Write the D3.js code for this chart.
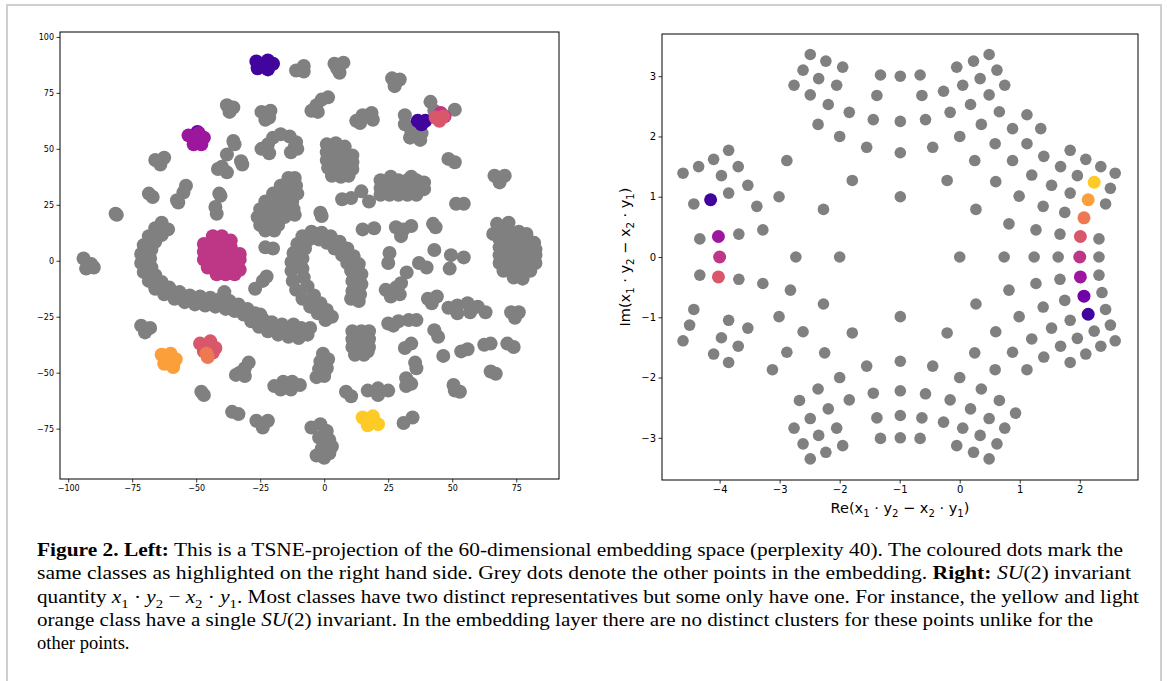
<!DOCTYPE html>
<html lang="en">
<head>
  <meta charset="utf-8">
  <title>Figure 2</title>
  <script src="https://d3js.org/d3.v7.min.js"></script>
  <style>
    body { margin: 0; background: #fff; }
    .tick text { font-family: "DejaVu Sans", sans-serif; fill: #000; }
  </style>
</head>
<body>
<div id="fig"></div>
<script>
  // class colours (plasma), in drawing order
  var classColours = ["#41049d", "#7201a8", "#9c179e", "#bd3786", "#d8576b", "#ed7953", "#fb9f3a", "#fdca26"];

  // ---- left: TSNE projection, grey points
  var tsneGrey = [
    [-11,85],[-8,87],[-8,84.5],[4,88],[7.5,88.5],[6,84],[5,86],[26.5,81.5],[29.5,81],[27.5,78],
    [-38,69.5],[-35.5,68.5],[-37,66.5],[-24.5,66.5],[-21,67],[-23,63],[-21.5,64],
    [-5,67],[-3,69.5],[-1,72],[1.5,73],[-2.5,66.5],[12.5,62.5],[15,65],[18.5,66],[19,63],[14,61.5],
    [31.5,65],[31.5,61],[34,58],[33.5,55],[37.5,54],[41.5,71],[43,67],[51,67.5],[38,57],[36,56],
    [48.5,45.5],[51,44],[66.5,38],[70.5,38],[68.5,35],
    [-66,45],[-62.5,46],[-64,43],[-35.5,53.5],[-35,52],[-38,47.5],[-32.5,44.5],[-32,43],
    [-41.5,41],[-38,39.5],[-40,42],[-24.5,50],[-22,52],[-20,55],[-17,56.5],[-21.5,48],
    [-13.5,55.5],[-11,53],[-10.5,50],[-13,48.5],[-11.5,51],
    // big blob centre-top
    [1,52],[4.5,52.5],[8,51],[1,48.5],[4.5,48.5],[8,48.5],[11,47],[1,45],[4.5,45],[8,45],[11,44],
    [1.5,41.5],[4.5,41.5],[8,41.5],[11,41],[3,38],[6.5,37.5],[9.5,38],
    [-68.5,30],[-67,28.5],[-57.5,27],[-55,30.5],[-54,33.5],[-57,26],[-41,30],[-40.5,29],[-42.5,24],[-42,21],
    [-81.5,21],[-81,20.5],
    // diagonal cluster
    [-14,37],[-11.5,37],[-17,33.5],[-13.5,33.5],[-11,33.5],[-20,30],[-16.5,30],[-13,30],[-10.5,30],
    [-23,26.5],[-19.5,26.5],[-16,26.5],[-12.5,26.5],[-25,23],[-21.5,23],[-18,23],[-14.5,23],[-12,23],
    [-26,19.5],[-22.5,19.5],[-19,19.5],[-15.5,19.5],[-11.5,20.5],[-25,16],[-21.5,16],[-18,16],[-23,13.5],[-19.5,13.5],
    // elongated cluster right of centre
    [22,36],[25.5,36],[29,36],[32.5,36],[36,36],[39,35],[26,37.5],[34,37.5],
    [22,32.5],[25.5,32.5],[29,32.5],[32.5,32.5],[36,32.5],[39,32],[22,29.5],[25.5,29.5],[29,29.5],[32.5,29.5],[36,29.5],
    [7,27.5],[10.5,28],[14.5,31],[17.5,26.5],[51.5,25.5],[54.5,25.5],[43.5,15],[42.5,16.5],
    [28,15],[31,14],[34,15.5],[30,11],[15,14],[19.5,14.5],[-1.5,21.5],[-1,20],[43,4.8],[37,-1],[40,-3],[32.2,-5.2],
    [49.5,2.5],[54.5,1.5],[49,-3.5],[25.5,3.5],[25,-1],
    // right edge cluster
    [67.5,16.5],[72,17],[66,12],[69,13],[72.5,13],[76,13],[79,12],[68.5,9.5],[72,9.5],[75.5,9.5],[79,9.5],[82,8],
    [68.5,6],[72,6],[75.5,6],[79,6],[82.5,5],[68.5,2.5],[72,2.5],[75.5,2.5],[79,2.5],[82.5,2.5],
    [68.5,-1],[72,-1],[75.5,-1],[79,-1],[82.5,-1],[70,-4.5],[73.5,-4.5],[77,-4.5],[80.5,-4.5],[74,-7.5],[77.5,-8],
    [-94,1],[-91,-1.5],[-93,-3.5],[-90,-3],[-23,6],[-20,5.5],[-27,-12.5],[-24,-9],[-22.5,-7],
    // long arc, outer and inner rows
    [-63.5,17],[-66,14.5],[-68.5,11],[-70.5,7],[-71.5,3],[-71.5,-1],[-70.5,-5],[-68.5,-9],[-66,-12.5],
    [-62.5,-15],[-58.5,-17],[-54.5,-18.5],[-50.5,-19.5],[-46.5,-20],[-42.5,-20.5],[-38.5,-21.5],[-35,-22.5],
    [-31.5,-24],[-28.5,-27],[-25.5,-29.5],[-22,-31.5],[-18,-33],[-14,-34],[-10,-34.5],[-6.5,-33],
    [-61,14],[-63.5,11.5],[-66,8.5],[-67.5,5],[-68,1],[-67.5,-3],[-66,-6.5],[-63.5,-9.5],[-60.5,-12],
    [-56.5,-14],[-52.5,-15.5],[-48.5,-16],[-44.5,-16.5],[-40.5,-17],[-37,-18],[-33.5,-19.5],[-30,-21.5],
    [-27,-23.5],[-24,-26],[-20.5,-27.5],[-16.5,-28.5],[-12.5,-29.5],[-9,-30],
    [-39,-14],[-25,-24],[-12,-28.5],[-5.5,-30],[-20,-30],[-15,-31.5],
    // V shape
    [-5,13],[-3,12],[-8.5,11],[-10.5,7.5],[-12,3.5],[-12.8,-0.5],[-12.8,-4.5],[-12.3,-9],[-11,-13],[-8.5,-17],
    [-5.5,-20.5],[-2.5,-23.5],[0.5,-26.5],
    [-6,9.5],[-7.5,5.5],[-8.5,1],[-8.5,-3.5],[-8,-7.5],[-6.5,-11.5],[-4,-15.5],[-1.5,-19],[1,-22],[3,-25],
    [-1,12.5],[2.5,11],[6,8.5],[9,5.5],[11.5,2],[13.5,-1.5],[14.5,-6],[14.5,-10.5],[14,-15],[13.5,-18],
    [-2,9.5],[1,8],[4,5.5],[7,2.5],[9,-1],[10.5,-4.5],[11,-9],[11,-13.5],[10.5,-17],
    [24,-13],[28,-12],[26,-16],[29.5,-15],[30,-10],[25,-28],[29,-27],[33,-26.5],[36,-26.5],[27,-29],
    [40.5,-17],[44,-16],[42,-19],[48.5,-21],[52,-20],[56,-19],[60,-20.5],[63,-23],[57,-23],[52,-23.5],
    [73,-23],[76,-23],[74.5,-25.5],
    [11,-31.5],[14.5,-31.5],[17.5,-31.5],[11,-35],[14.5,-35],[17.5,-35],[11,-38.5],[14.5,-38.5],[17.5,-38.5],
    [12,-42],[15.5,-42],[17,-40.5],
    [31.5,-39],[34,-37],[43,-31],[44.5,-34],[46.5,-42.5],[53.5,-40.5],[56,-39.5],[62.5,-37.5],[65,-37],
    [71.5,-37],[74,-38.5],[35.5,-45.5],[36,-48],[32,-52.5],[34,-55],[32,-56],[65,-49.5],[67,-50.5],
    [50.5,-55.5],[53,-58.5],[51,-58],
    [-0.5,-41.5],[1.5,-44],[-1.5,-45],[1,-48],[-2,-48.5],[-3,-52],[0,-51.5],
    [-19.5,-56],[-16,-54],[-12.5,-54],[-9.5,-55.5],[-17,-57.5],[-13,-57.5],
    [-34.5,-51],[-31,-48],[-29.5,-45.5],[-33,-50],[-31,-51.5],[-48,-58.5],[-47,-60],
    [-71.5,-29],[-68,-30],[-70,-32],[-36,-67.5],[-33.5,-68.5],[-26.5,-71.5],[-22,-71.5],[-24,-74.5],
    [8.5,-58.5],[10.5,-60.5],[17,-58],[21,-57],[25,-58],[21,-60],[31,-72.5],[34.5,-70],
    [-5,-74.5],[-1.5,-73],[1,-76],[-2,-79],[2,-80],[-1,-84],[2,-86],[-3,-87],[0,-88],[3,-83]
  ];

  // ---- left: coloured classes [class, x, y]
  var tsneColoured = [
    [0,-26.5,89],[0,-22,89.5],[0,-20,88],[0,-26,86],[0,-22,85.5],[0,-24,87.5],[0,36.5,62.5],[0,39.5,62.5],[0,38,61],
    [1,-49.5,57.5],
    [2,-53,56],[2,-49,57],[2,-47,55],[2,-51,52],[2,-48,52],[2,-50,54.5],
    [3,-43.5,11],[3,-40,11],[3,-36.5,9],[3,-47,7.5],[3,-43.5,7.5],[3,-40,7.5],[3,-36.5,6],
    [3,-47,4],[3,-43.5,4],[3,-40,4],[3,-36.5,4],[3,-33,3],[3,-47,0.5],[3,-43.5,0.5],[3,-40,0.5],[3,-36.5,0.5],
    [3,-33,0.5],[3,-45.5,-3],[3,-42,-3],[3,-38.5,-3],[3,-35,-3],[3,-33,-4],[3,-42,-6],[3,-38.5,-6],[3,-35,-6],
    [3,45.5,66],[3,47,64.5],
    [4,-48.5,-37],[4,-44.5,-36],[4,-42.5,-39],[4,-47,-40.5],[4,-43.5,-41],[4,43.5,64],[4,46.5,64.5],[4,45,62.5],
    [5,-45.5,-43],[5,-46,-41.5],
    [6,-63.5,-42],[6,-60,-41.5],[6,-58,-44],[6,-62.5,-46],[6,-59,-47.5],[6,-61,-44],
    [7,15,-70],[7,19,-69.5],[7,21,-73],[7,17,-73.5],[7,18,-71.5]
  ];
  var tsneXTicks = [-100, -75, -50, -25, 0, 25, 50, 75];
  var tsneYTicks = [-75, -50, -25, 0, 25, 50, 75, 100];

  // ---- right: SU(2) invariant, grey points [Re, Im]
  var su2Grey = [
    [-2.49,3.36],[-2.23,3.25],[-1.95,3.15],[-2.61,3.10],[-2.35,2.96],[-2.76,2.85],[-2.05,2.85],[-2.49,2.69],
    [-2.19,2.53],[-1.84,2.40],[-2.36,2.20],[-2.00,2.00],[-1.55,1.82],[-2.88,1.60],[-1.79,1.27],[-3.01,1.00],
    [-2.27,0.79],[-2.73,0],[-2.00,0],
    [-1.32,3.02],[-0.99,3.00],[-0.66,3.02],[-1.38,2.68],[-0.63,2.68],[-1.44,2.28],[-0.99,2.25],[-0.57,2.28],
    [-0.99,1.73],[-0.45,1.82],[-0.99,1.00],
    [0.49,3.36],[0.23,3.25],[-0.05,3.15],[0.62,3.10],[0.34,2.96],[0.05,2.85],[0.75,2.85],[0.49,2.69],
    [-0.27,2.75],[0.18,2.53],[-0.16,2.40],[0.66,2.41],[0.36,2.20],[0.00,2.00],[0.59,1.88],[0.25,1.60],
    [-0.21,1.27],[0.60,1.25],[0.27,0.79],[0.00,0],[0.74,0],
    [1.12,2.36],[0.88,2.13],[1.35,2.13],[1.12,1.88],[0.88,1.60],[1.40,1.67],[1.84,1.77],[2.10,1.62],
    [1.68,1.50],[2.35,1.50],[1.20,1.36],[1.96,1.35],[2.59,1.39],[1.53,1.19],[2.51,1.14],[0.99,1.01],
    [1.84,1.06],[2.43,0.88],[1.39,0.84],[1.75,0.74],[0.82,0.55],[1.27,0.45],[1.67,0.38],[2.32,0.30],
    [1.24,0],[1.64,0],[2.32,0],
    [-4.61,1.39],[-4.35,1.50],[-4.10,1.62],[-3.85,1.77],[-3.69,1.50],[-3.97,1.35],[-3.53,1.19],[-3.85,1.06],
    [-4.43,0.88],[-3.38,0.84],[-3.28,0.45],[-3.68,0.38],[-4.33,0.30],
    [-4.33,-0.30],[-3.68,-0.37],[-3.28,-0.44],[-2.82,-0.55],[-4.43,-0.87],[-3.85,-1.05],[-4.50,-1.13],
    [-3.53,-1.18],[-3.97,-1.34],[-4.61,-1.39],[-3.69,-1.48],[-4.10,-1.61],[-3.85,-1.75],[-2.88,-1.58],
    [-3.01,-0.99],[-2.27,-0.78],[-3.12,-1.87],[-2.61,-1.24],
    [-0.99,-0.99],[-1.79,-1.26],[-0.21,-1.26],[-0.99,-1.73],[-1.55,-1.81],[-0.45,-1.81],[0,-2.0],[-2.0,-2.0],
    [-0.99,-2.22],[-1.44,-2.26],[-0.57,-2.27],[-1.38,-2.67],[-0.63,-2.67],[-0.99,-2.63],[-1.32,-3.01],
    [-0.99,-3.0],[-0.66,-3.01],[-0.27,-2.74],
    [-2.25,-1.59],[-2.36,-2.19],[-1.84,-2.37],[-2.67,-2.38],[-2.19,-2.52],[-2.49,-2.68],[-2.76,-2.84],
    [-2.05,-2.84],[-2.35,-2.96],[-2.61,-3.10],[-1.95,-3.13],[-2.23,-3.24],[-2.49,-3.35],
    [-0.16,-2.37],[0.18,-2.52],[0.36,-2.19],[0.66,-2.38],[0.49,-2.68],[0.75,-2.84],[0.05,-2.84],[0.34,-2.96],
    [0.62,-3.10],[-0.05,-3.13],[0.23,-3.24],[0.49,-3.35],[0.93,-2.59],
    [0.25,-1.59],[0.59,-1.87],[1.12,-1.87],[0.27,-0.78],[0.60,-1.24],[0.82,-0.55],
    [2.32,-0.30],[1.67,-0.37],[1.27,-0.44],[2.37,-0.59],[1.75,-0.72],[1.39,-0.83],[2.43,-0.87],[0.99,-0.99],
    [1.84,-1.05],[1.53,-1.18],[2.24,-1.23],[2.51,-1.13],[1.96,-1.35],[1.20,-1.36],[2.59,-1.39],[1.68,-1.48],
    [2.35,-1.48],[2.10,-1.61],[1.40,-1.66],[1.84,-1.75],[0.88,-1.58]
  ];
  // coloured classes [class, Re, Im]
  var su2Coloured = [
    [0,-4.15,0.95],[0,2.14,-0.95],[1,2.07,-0.65],[2,-4.02,0.34],[2,2.01,-0.33],[3,-4.0,0],[3,2.0,0],
    [4,-4.02,-0.33],[4,2.01,0.34],[5,2.07,0.65],[6,2.14,0.95],[7,2.24,1.24]
  ];
  var su2XTicks = [-4, -3, -2, -1, 0, 1, 2];
  var su2YTicks = [-3, -2, -1, 0, 1, 2, 3];

  var W = 1167, H = 681;
  var svg = d3.select("#fig").append("svg").attr("width", W).attr("height", H);

  // outer frame of the figure page
  svg.append("rect").attr("x", 7).attr("y", 5).attr("width", 1154).attr("height", 690)
    .attr("fill", "none").attr("stroke", "#cfcfcf").attr("stroke-width", 2);

  function drawAxes(x, y, xt, yt, fs) {
    var g = svg.append("g");
    var r = y.range();
    var xr = x.range();
    g.append("g").attr("transform", "translate(0," + r[0] + ")")
      .call(d3.axisBottom(x).tickValues(xt).tickSize(3.5).tickPadding(2.5))
      .call(s => s.select(".domain").remove())
      .selectAll("text").attr("font-size", fs);
    g.append("g").attr("transform", "translate(" + xr[0] + ",0)")
      .call(d3.axisLeft(y).tickValues(yt).tickSize(3.5).tickPadding(2.5))
      .call(s => s.select(".domain").remove())
      .selectAll("text").attr("font-size", fs);
    g.selectAll(".tick line").attr("stroke", "#000").attr("stroke-width", 0.8);
    svg.append("rect").attr("x", xr[0]).attr("y", r[1])
      .attr("width", xr[1] - xr[0]).attr("height", r[0] - r[1])
      .attr("fill", "none").attr("stroke", "#000").attr("stroke-width", 1);
  }

  // ---- left panel
  var xL = d3.scaleLinear().domain([-103.2, 91.7]).range([60, 559]);
  var yL = d3.scaleLinear().domain([-97.5, 102.2]).range([479, 32]);

  svg.append("g").selectAll("circle").data(tsneGrey).enter().append("circle")
    .attr("cx", d => xL(d[0])).attr("cy", d => yL(d[1])).attr("r", 7).attr("fill", "#808080");
  svg.append("g").selectAll("circle").data(tsneColoured).enter().append("circle")
    .attr("cx", d => xL(d[1])).attr("cy", d => yL(d[2])).attr("r", 7)
    .attr("fill", d => classColours[d[0]]);
  drawAxes(xL, yL, tsneXTicks, tsneYTicks, 8);

  // ---- right panel
  var xR = d3.scaleLinear().domain([-4.96, 2.97]).range([662, 1138]);
  var yR = d3.scaleLinear().domain([-3.70, 3.70]).range([480, 34]);

  svg.append("g").selectAll("circle").data(su2Grey).enter().append("circle")
    .attr("cx", d => xR(d[0])).attr("cy", d => yR(d[1])).attr("r", 5.8).attr("fill", "#808080");
  svg.append("g").selectAll("circle").data(su2Coloured).enter().append("circle")
    .attr("cx", d => xR(d[1])).attr("cy", d => yR(d[2])).attr("r", 6.5)
    .attr("fill", d => classColours[d[0]]);
  drawAxes(xR, yR, su2XTicks, su2YTicks, 10);

  // text made of parts: [string, style]  "" normal, "b" bold, "i" italic, "s" subscript
  function richText(sel, parts, fs) {
    var shifted = false, d = fs * 0.28;
    parts.forEach(function (p) {
      var t = sel.append("tspan").text(p[0]);
      if (p[1] === "b") t.attr("font-weight", "bold");
      if (p[1] === "i") t.attr("font-style", "italic");
      if (p[1] === "s") {
        t.attr("font-size", fs * 0.7);
        if (!shifted) { t.attr("dy", d); shifted = true; }
      } else if (shifted) {
        t.attr("dy", -d); shifted = false;
      }
    });
  }

  var invParts = function (pre) {
    return [[pre + "(x", ""], ["1", "s"], [" · y", ""], ["2", "s"], [" − x", ""], ["2", "s"], [" · y", ""], ["1", "s"], [")", ""]];
  };
  var xlab = svg.append("text").attr("x", 900).attr("y", 513).attr("text-anchor", "middle")
    .attr("font-family", "DejaVu Sans").attr("font-size", 14.5);
  richText(xlab, invParts("Re"), 14.5);
  var ylab = svg.append("text").attr("transform", "translate(630,257) rotate(-90)").attr("text-anchor", "middle")
    .attr("font-family", "DejaVu Sans").attr("font-size", 14.5);
  richText(ylab, invParts("Im"), 14.5);

  // ---- caption (null width = natural width)
  var captionLines = [
    [[["Figure 2. Left:", "b"], [" This is a TSNE-projection of the 60-dimensional embedding space (perplexity 40). The coloured dots mark the", ""]], 1086],
    [[["same classes as highlighted on the right hand side. Grey dots denote the other points in the embedding. ", ""], ["Right:", "b"], [" ", ""], ["SU", "i"], ["(2) invariant", ""]], 1094],
    [[["quantity ", ""], ["x", "i"], ["1", "s"], [" · ", ""], ["y", "i"], ["2", "s"], [" − ", ""], ["x", "i"], ["2", "s"], [" · ", ""], ["y", "i"], ["1", "s"], [". Most classes have two distinct representatives but some only have one. For instance, the yellow and light", ""]], 1102],
    [[["orange class have a single ", ""], ["SU", "i"], ["(2) invariant. In the embedding layer there are no distinct clusters for these points unlike for the", ""]], 1056],
    [[["other points.", ""]], null]
  ];
  var capFs = 18.5;
  captionLines.forEach(function (line, i) {
    var t = svg.append("text").attr("x", 37).attr("y", 556 + i * 23.3)
      .attr("font-family", "Liberation Serif").attr("font-size", capFs);
    if (line[1]) t.attr("textLength", line[1]).attr("lengthAdjust", "spacingAndGlyphs");
    richText(t, line[0], capFs);
  });
</script>
</body>
</html>
